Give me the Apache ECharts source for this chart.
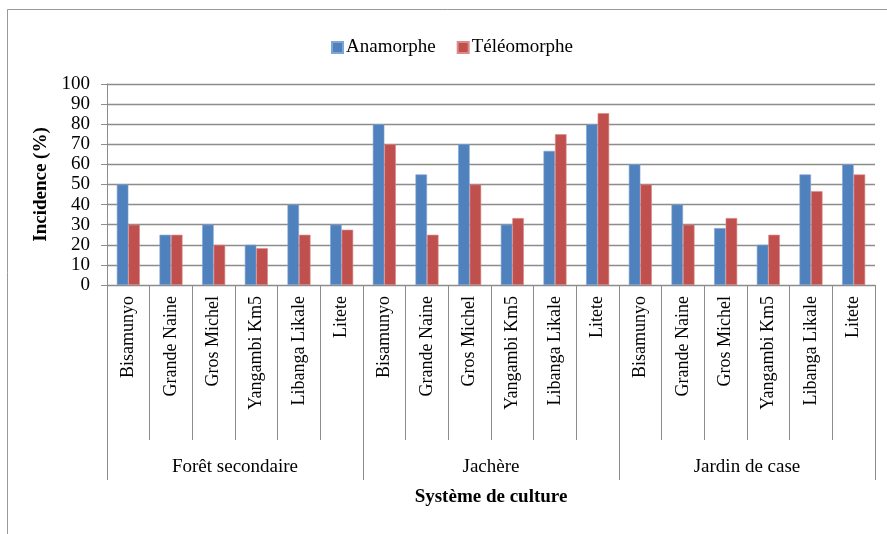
<!DOCTYPE html>
<html>
<head>
<meta charset="utf-8">
<script src="https://cdn.jsdelivr.net/npm/echarts@6/dist/echarts.min.js"></script>
<style>
  html, body { margin: 0; padding: 0; background: #fff; }
  #chart { width: 887px; height: 534px; }
</style>
</head>
<body>
<div id="chart"></div>
<script>
// Banana cultivars, repeated for each cropping system
const cultivars = [
  'Bisamunyo', 'Grande Naine', 'Gros Michel', 'Yangambi Km5', 'Libanga Likale', 'Litete',
  'Bisamunyo', 'Grande Naine', 'Gros Michel', 'Yangambi Km5', 'Libanga Likale', 'Litete',
  'Bisamunyo', 'Grande Naine', 'Gros Michel', 'Yangambi Km5', 'Libanga Likale', 'Litete'
];
const systems = ['Forêt secondaire', 'Jachère', 'Jardin de case'];

// Incidence (%) per cultivar and system
const anamorphe   = [50, 25, 30, 20, 40, 30,   80, 55, 70, 30, 66.7, 80,   60, 40, 28.3, 20, 55, 60];
const teleomorphe = [30, 25, 20, 18.3, 25, 27.5, 70, 25, 50, 33.3, 75, 85.5, 50, 30, 33.3, 25, 46.7, 55];

const yTicks = [0, 10, 20, 30, 40, 50, 60, 70, 80, 90, 100];

const FONT = '"Liberation Serif", "Times New Roman", serif';
const GRID_GRAY = '#8c8c8c';

const chart = echarts.init(document.getElementById('chart'), null, { renderer: 'canvas' });

chart.setOption({
  backgroundColor: '#ffffff',
  animation: false,
  textStyle: { fontFamily: FONT, color: '#000' },
  graphic: [{
    type: 'rect',
    shape: { x: 7.5, y: 9.5, width: 900, height: 560 },
    style: { fill: 'none', stroke: '#999999', lineWidth: 1 },
    silent: true,
    z: -1
  }],
  legend: {
    left: 326,
    top: 33,
    itemWidth: 11,
    itemHeight: 11,
    itemGap: 21,
    icon: 'rect',
    textStyle: { fontFamily: FONT, fontSize: 19, color: '#000', padding: [0, 0, 0, -2] },
    data: ['Anamorphe', 'Téléomorphe']
  },
  grid: { left: 107, right: 12, top: 84, bottom: 249, containLabel: false },
  xAxis: [{
    type: 'category',
    data: cultivars,
    position: 'bottom',
    axisLine: { show: true, lineStyle: { color: GRID_GRAY, width: 1 } },
    axisTick: { show: true, interval: 0, length: 155, lineStyle: { color: GRID_GRAY, width: 1 } },
    axisLabel: {
      interval: 0,
      rotate: 90,
      margin: 11,
      fontFamily: FONT,
      fontSize: 18,
      color: '#000'
    },
    name: 'Système de culture',
    nameLocation: 'middle',
    nameGap: 203,
    nameTextStyle: { fontFamily: FONT, fontSize: 19, fontWeight: 'bold', color: '#000' }
  }, {
    type: 'category',
    data: systems,
    position: 'bottom',
    axisLine: { show: false },
    axisTick: { show: true, interval: 0, length: 195, lineStyle: { color: GRID_GRAY, width: 1 } },
    axisLabel: {
      interval: 0,
      margin: 173,
      fontFamily: FONT,
      fontSize: 19,
      color: '#000'
    }
  }],
  yAxis: {
    type: 'value',
    min: yTicks[0],
    max: yTicks[yTicks.length - 1],
    interval: 10,
    axisLine: { show: true, lineStyle: { color: GRID_GRAY, width: 1 } },
    axisTick: { show: true, length: 6, lineStyle: { color: GRID_GRAY, width: 1 } },
    axisLabel: { margin: 17, fontFamily: FONT, fontSize: 19, color: '#000' },
    splitLine: { show: true, lineStyle: { color: GRID_GRAY, width: 1.3 } },
    name: 'Incidence (%)',
    nameLocation: 'middle',
    nameRotate: 90,
    nameGap: 52,
    nameTextStyle: { fontFamily: FONT, fontSize: 19, fontWeight: 'bold', color: '#000' }
  },
  series: [{
    name: 'Anamorphe',
    type: 'bar',
    xAxisIndex: 0,
    data: anamorphe,
    barWidth: 11.5,
    barGap: '0%',
    itemStyle: { color: '#4f81bd', borderColor: '#7fa5d6', borderWidth: 0.6 }
  }, {
    name: 'Téléomorphe',
    type: 'bar',
    xAxisIndex: 0,
    data: teleomorphe,
    barWidth: 11.5,
    barGap: '0%',
    itemStyle: { color: '#c0504d', borderColor: '#dc8a88', borderWidth: 0.6 }
  }]
});
</script>
</body>
</html>
